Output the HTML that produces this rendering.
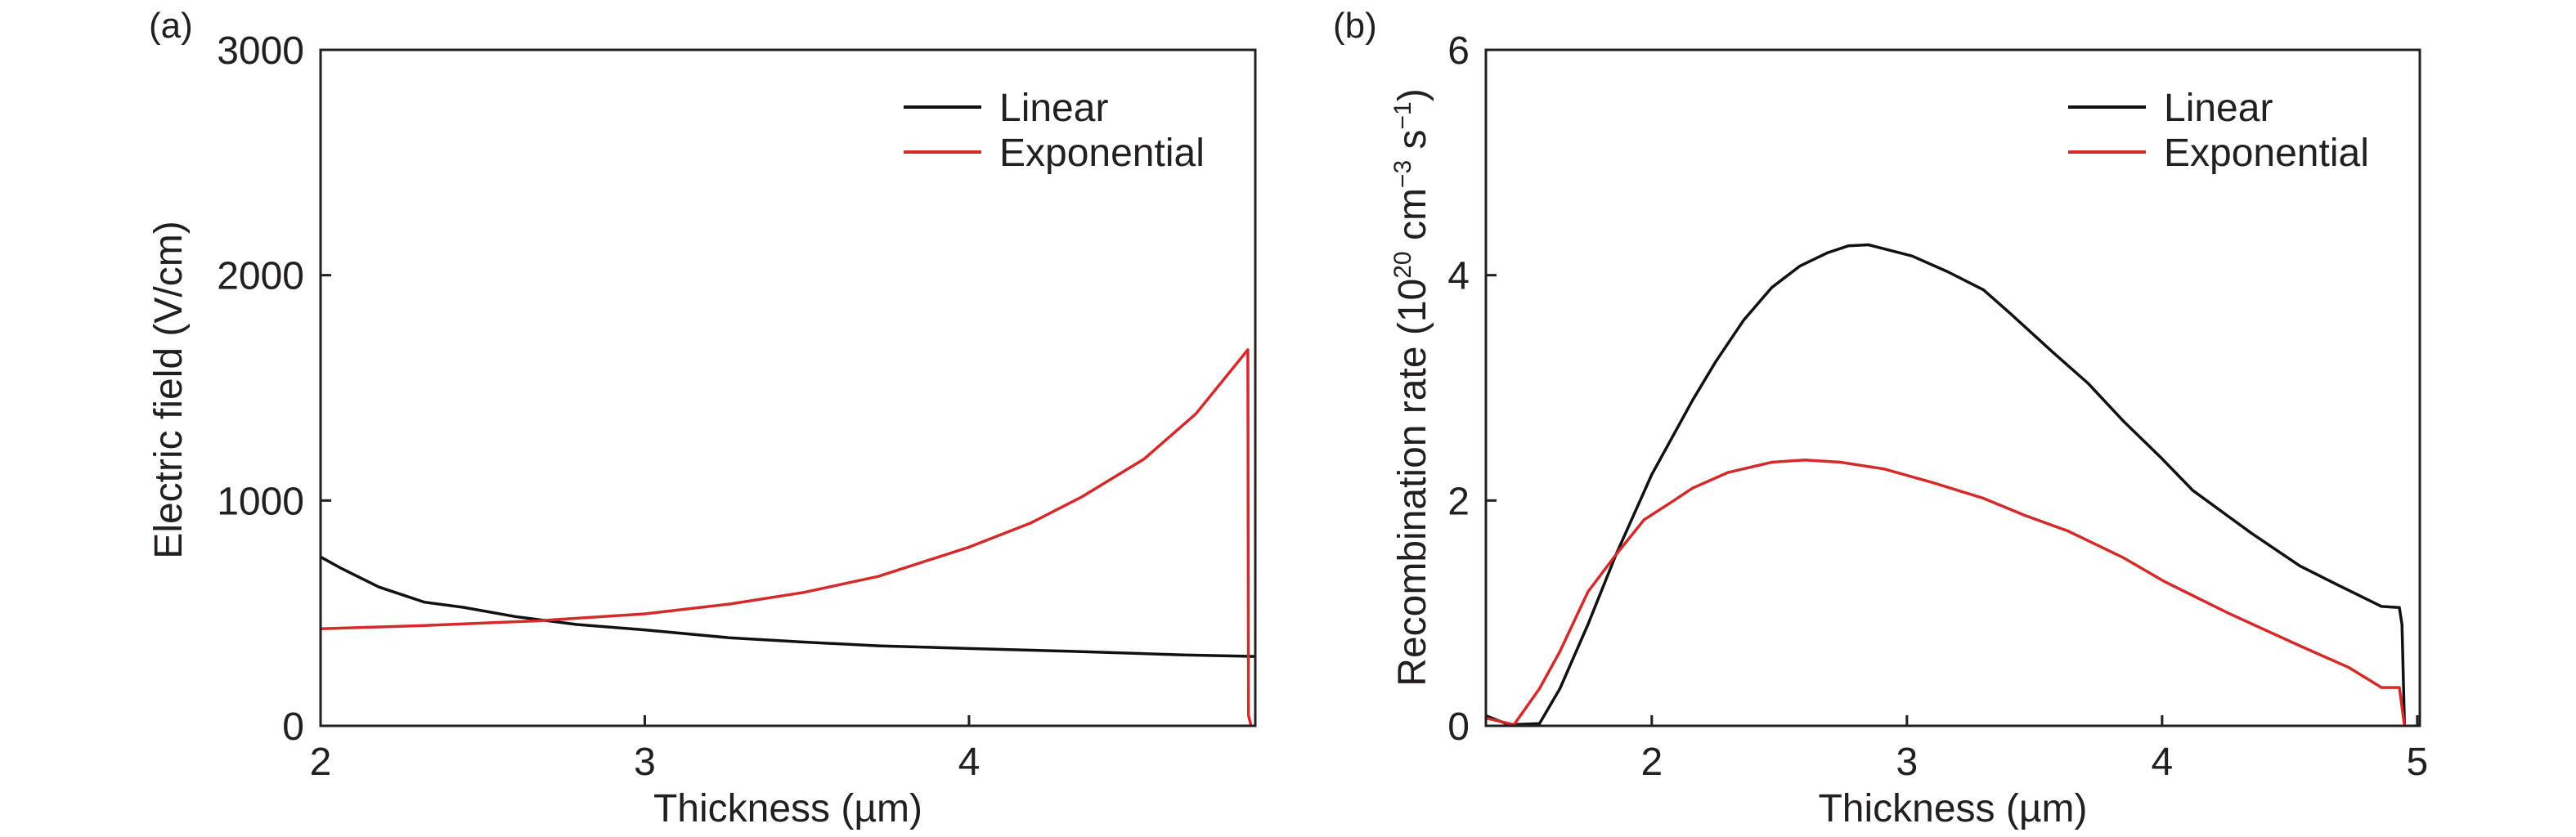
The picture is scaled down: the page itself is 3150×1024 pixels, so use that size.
<!DOCTYPE html>
<html><head><meta charset="utf-8"><style>
html,body{margin:0;padding:0;background:#fff;}
svg{display:block;font-family:"Liberation Sans",sans-serif;}
</style></head><body>
<svg id="c" width="3150" height="1024" viewBox="0 0 3150 1024" xmlns="http://www.w3.org/2000/svg"></svg>
<script>
// Panel (a) data
const aXTicks = [2, 3, 4];
const aYTicks = [0, 1000, 2000, 3000];
const aLinX = [2, 2.065, 2.18, 2.32, 2.44, 2.6, 2.79, 3.0, 3.26, 3.49, 3.72, 4.0, 4.31, 4.66, 4.88];
const aLinY = [750, 698, 616, 549, 526, 485, 450, 426, 391, 372, 355, 343, 331, 315, 308];
const aExpX = [2, 2.32, 2.67, 3.0, 3.26, 3.49, 3.72, 4.0, 4.19, 4.35, 4.54, 4.7, 4.86, 4.862, 4.87];
const aExpY = [431, 445, 466, 497, 540, 592, 663, 793, 900, 1018, 1184, 1385, 1669, 47, 0];
// Panel (b) data
const bXTicks = [2, 3, 4, 5];
const bYTicks = [0, 2, 4, 6];
const bLinX = [1.35, 1.44, 1.56, 1.64, 1.75, 1.86, 2.0, 2.16, 2.25, 2.36, 2.47, 2.58, 2.69, 2.77, 2.85, 3.02, 3.16, 3.3, 3.41, 3.57, 3.71, 3.85, 4.0, 4.12, 4.35, 4.54, 4.68, 4.86, 4.93, 4.94, 4.95];
const bLinY = [0.09, 0.01, 0.02, 0.33, 0.9, 1.52, 2.23, 2.89, 3.23, 3.6, 3.89, 4.08, 4.2, 4.26, 4.27, 4.17, 4.03, 3.87, 3.65, 3.32, 3.04, 2.7, 2.37, 2.09, 1.71, 1.42, 1.26, 1.06, 1.05, 0.9, 0];
const bExpX = [1.35, 1.46, 1.56, 1.64, 1.75, 1.86, 1.97, 2.08, 2.16, 2.3, 2.47, 2.6, 2.74, 2.91, 3.1, 3.3, 3.46, 3.63, 3.85, 4.01, 4.26, 4.54, 4.73, 4.86, 4.93, 4.95];
const bExpY = [0.07, 0.01, 0.33, 0.66, 1.19, 1.52, 1.83, 1.99, 2.11, 2.25, 2.34, 2.36, 2.34, 2.28, 2.16, 2.02, 1.87, 1.73, 1.49, 1.28, 1.0, 0.71, 0.52, 0.34, 0.34, 0];

const NS = "http://www.w3.org/2000/svg";
const svg = document.getElementById('c');
function mk(tag, attrs, parent, text){
  const e = document.createElementNS(NS, tag);
  for (const k in attrs) e.setAttribute(k, attrs[k]);
  if (text !== undefined) e.textContent = text;
  (parent || svg).appendChild(e);
  return e;
}
function panel(p){
  const g = mk('g', {});
  
  
  const sx = v => p.L + (v - p.x0) / (p.x1 - p.x0) * (p.R - p.L);
  const sy = v => p.B - (v - p.y0) / (p.y1 - p.y0) * (p.B - p.T);
  // series
  function line(xs, ys, color, name){
    const d = xs.map((x, i) => (i ? 'L' : 'M') + sx(x).toFixed(1) + ' ' + sy(ys[i]).toFixed(1)).join(' ');
    const pth = mk('path', {d: d, fill: 'none', stroke: color, 'stroke-width': 3.5, 'stroke-linejoin': 'round'}, g);
    
    
  }
  line(p.linX, p.linY, '#111', p.name + '-linear-line');
  line(p.expX, p.expY, '#d42a2a', p.name + '-exponential-line');
  // frame
  const fr = mk('rect', {x: p.L, y: p.T, width: p.R - p.L, height: p.B - p.T, fill: 'none', stroke: '#231f20', 'stroke-width': 3}, g);
  
  
  // x ticks
  p.xt.forEach(v => {
    const x = sx(v);
    mk('line', {x1: x, y1: p.B, x2: x, y2: p.B - 13, stroke: '#231f20', 'stroke-width': 3}, g);
    const t = mk('text', {x: x, y: 948, 'font-size': 48, 'text-anchor': 'middle', fill: '#231f20'}, g, String(v));
    
    
  });
  p.yt.forEach(v => {
    const y = sy(v);
    mk('line', {x1: p.L, y1: y, x2: p.L + 13, y2: y, stroke: '#231f20', 'stroke-width': 3}, g);
    const t = mk('text', {x: p.L - 20, y: y + 17, 'font-size': 48, 'text-anchor': 'end', fill: '#231f20'}, g, String(v));
    
    
  });
  const xt = mk('text', {x: (p.L + p.R) / 2, y: 1005, 'font-size': 48, 'text-anchor': 'middle', fill: '#231f20'}, g, 'Thickness (µm)');
  
  
  // legend
  const lg = mk('g', {}, g);
  
  
  [['Linear', '#111', 131], ['Exponential', '#d42a2a', 186]].forEach(([lab, col, y]) => {
    mk('line', {x1: p.lgx, y1: y, x2: p.lgx + 95, y2: y, stroke: col, 'stroke-width': 4}, lg);
    const t = mk('text', {x: p.lgx + 117, y: y + 17, 'font-size': 48, fill: '#231f20'}, lg, lab);
    
    
  });
  return g;
}
const ga = panel({name: 'panel-a', L: 392, R: 1535, T: 61, B: 888, x0: 2, x1: 4.883, y0: 0, y1: 3000,
  xt: aXTicks, yt: aYTicks, linX: aLinX, linY: aLinY, expX: aExpX, expY: aExpY, lgx: 1105});
const gb = panel({name: 'panel-b', L: 1817, R: 2959, T: 61, B: 888, x0: 1.35, x1: 5.01, y0: 0, y1: 6,
  xt: bXTicks, yt: bYTicks, linX: bLinX, linY: bLinY, expX: bExpX, expY: bExpY, lgx: 2529});

const ya = mk('text', {x: 0, y: 0, 'font-size': 48, 'text-anchor': 'middle', fill: '#231f20', transform: 'translate(222,477) rotate(-90)'}, ga, 'Electric field (V/cm)');


const yb = mk('text', {x: 0, y: 0, 'font-size': 48, 'text-anchor': 'middle', fill: '#231f20', transform: 'translate(1743,474) rotate(-90)'}, gb);
yb.innerHTML = 'Recombination rate (10<tspan dy="-18" font-size="30">20</tspan><tspan dy="18"> cm</tspan><tspan dy="-18" font-size="30">−3</tspan><tspan dy="18"> s</tspan><tspan dy="-18" font-size="30">−1</tspan><tspan dy="18">)</tspan>';



const la = mk('text', {x: 182, y: 46, 'font-size': 44, fill: '#231f20'}, svg, '(a)');


const lb = mk('text', {x: 1630, y: 46, 'font-size': 44, fill: '#231f20'}, svg, '(b)');


</script>
</body></html>
